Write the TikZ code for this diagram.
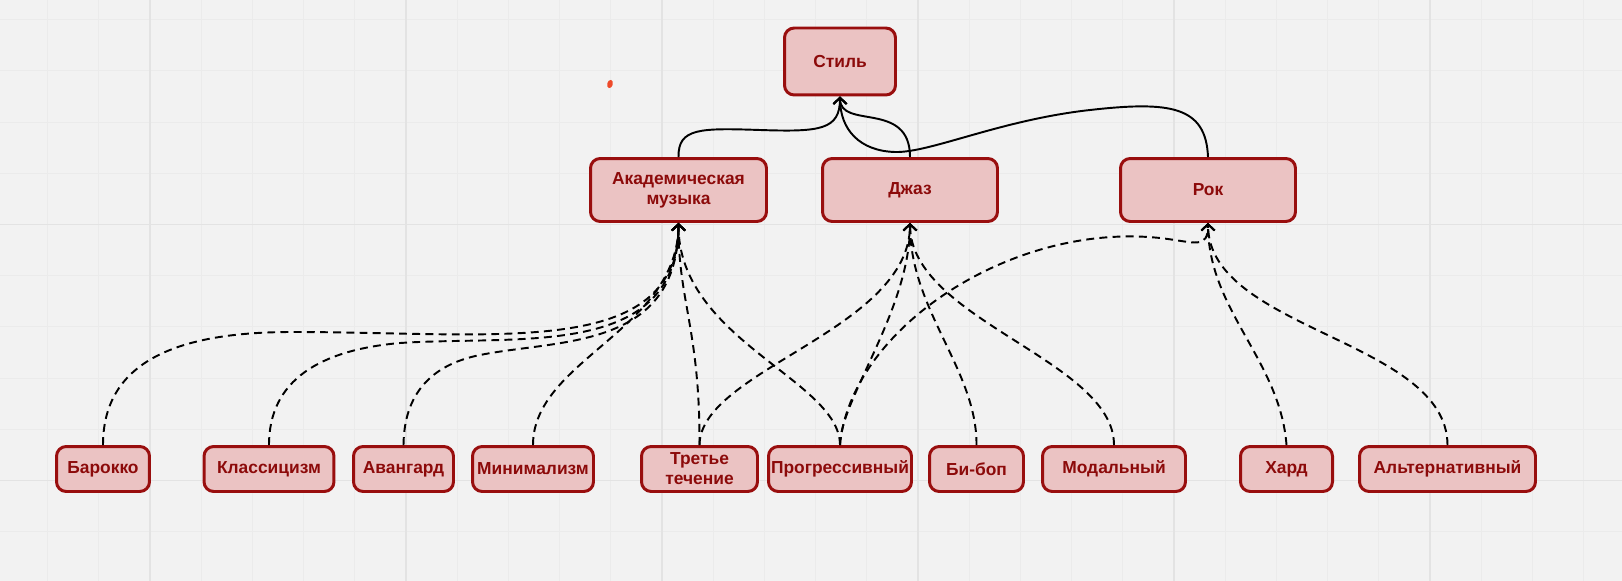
\documentclass[tikz,border=0pt]{standalone}
\usepackage{fontspec}
\setmainfont{Liberation Sans}
\usetikzlibrary{arrows.meta}
\definecolor{bg}{HTML}{F2F2F2}
\definecolor{gridminor}{HTML}{EBEBEB}
\definecolor{gridmajor}{HTML}{E3E3E3}
\definecolor{boxfill}{HTML}{EBC3C3}
\definecolor{boxline}{HTML}{990E0E}
\definecolor{boxtext}{HTML}{8C0A0A}
\definecolor{blot}{HTML}{EE4A2A}
\tikzset{
	genre/.style={draw=boxline, fill=boxfill, text=boxtext, line width=1.7pt, rounded corners=5.5pt, align=center, inner sep=0pt, font=\fontsize{9.9}{11.3}\selectfont\bfseries},
	toprow/.style={genre, minimum height=1.26cm},
	lowrow/.style={genre, minimum height=0.9cm},
	islink/.style={line width=1.1pt, -{Straight Barb[length=3.5pt,width=7.5pt]}},
	kindlink/.style={islink, dash pattern=on 4.5pt off 3pt}
}

\begin{document}
\begin{tikzpicture}[x=0.02cm, y=-0.02cm]
		%%%%% BACKGROUND %%%%%
		\fill[bg] (0,0) rectangle (1622,581);
		\useasboundingbox (0,0) rectangle (1622,581);
		\foreach \i in {0,...,30} \draw[gridminor, line width=0.6pt] ({47.6+51.2*\i},0) -- ({47.6+51.2*\i},581);
		\foreach \i in {0,...,10} \draw[gridminor, line width=0.6pt] (0,{19.7+51.2*\i}) -- (1622,{19.7+51.2*\i});
		\foreach \i in {0,...,5} \draw[gridmajor, line width=1.1pt] ({150+256*\i},0) -- ({150+256*\i},581);
		\foreach \i in {0,1} \draw[gridmajor, line width=1.1pt] (0,{224.5+256*\i}) -- (1622,{224.5+256*\i});
		
		\fill[blot, rotate around={-15:(610,84)}] (610,84) ellipse [x radius=2.8, y radius=4.2];
		
		%%%%% NODES %%%%%
		\node[genre, minimum width=2.22cm, minimum height=1.34cm] (stil) at (840,61.5) {Стиль};
		
		\node[toprow, minimum width=3.52cm] (akad) at (678.5,190) {Академическая\\музыка};
		\node[toprow, minimum width=3.5cm] (jazz) at (910,190) {Джаз};
		\node[toprow, minimum width=3.5cm] (rok) at (1208,190) {Рок};
		
		\node[lowrow, minimum width=1.86cm] (barokko) at (103,469) {Барокко};
		\node[lowrow, minimum width=2.6cm] (klass) at (269,469) {Классицизм};
		\node[lowrow, minimum width=2.0cm] (avangard) at (403.5,469) {Авангард};
		\node[lowrow, minimum width=2.42cm] (minimal) at (533,469) {Минимализм};
		\node[lowrow, minimum width=2.32cm] (tretie) at (699.5,469) {Третье\\течение};
		\node[lowrow, minimum width=2.86cm] (progr) at (840,469) {Прогрессивный};
		\node[lowrow, minimum width=1.88cm] (bibop) at (976.5,469) {Би-боп};
		\node[lowrow, minimum width=2.86cm] (modal) at (1114,469) {Модальный};
		\node[lowrow, minimum width=1.84cm] (hard) at (1286.5,469) {Хард};
		\node[lowrow, minimum width=3.52cm] (alt) at (1447.5,469) {Альтернативный};
		
		%%%%% SOLID LINKS %%%%%
		\draw[islink] (akad.north) .. controls (678,128) and (700,128) .. (760,130) .. controls (820,132) and (840,130) .. (stil.south);
		\draw[islink] (jazz.north) .. controls (910,100) and (840,130) .. (stil.south);
		\draw[islink] (rok.north) .. controls (1206,106) and (1170,101) .. (1090,110) .. controls (1000,120) and (930,153) .. (895,152) .. controls (860,151) and (840,130) .. (stil.south);
		
		%%%%% DASHED LINKS %%%%%
		% academic
		\draw[kindlink] (barokko.north) .. controls (103,360) and (180,332) .. (292,332) .. controls (500,332) and (678,360) .. (akad.south);
		\draw[kindlink] (klass.north) .. controls (269,380) and (320,350) .. (400,343) .. controls (520,335) and (678,360) .. (akad.south);
		\draw[kindlink] (avangard.north) .. controls (404,395) and (430,365) .. (480,355) .. controls (560,339) and (678,350) .. (akad.south);
		\draw[kindlink] (minimal.north) .. controls (533,360) and (678,330) .. (akad.south);
		\draw[kindlink] (tretie.north) .. controls (700,330) and (678,300) .. (akad.south);
		\draw[kindlink] (progr.north) .. controls (840,380) and (678,340) .. (akad.south);
		
		% jazz
		\draw[kindlink] (tretie.north) .. controls (700,370) and (910,330) .. (jazz.south);
		\draw[kindlink] (progr.north) .. controls (840,400) and (910,310) .. (jazz.south);
		\draw[kindlink] (bibop.north) .. controls (977,370) and (910,310) .. (jazz.south);
		\draw[kindlink] (modal.north) .. controls (1114,360) and (910,320) .. (jazz.south);
		
		% rock
		\draw[kindlink] (progr.north) .. controls (850,330) and (1010,222) .. (1160,238) .. controls (1195,242) and (1208,250) .. (rok.south);
		\draw[kindlink] (hard.north) .. controls (1280,360) and (1208,310) .. (rok.south);
		\draw[kindlink] (alt.north) .. controls (1447,340) and (1208,330) .. (rok.south);
		
		%%%%% END %%%%%
	\end{tikzpicture}
\end{document}
